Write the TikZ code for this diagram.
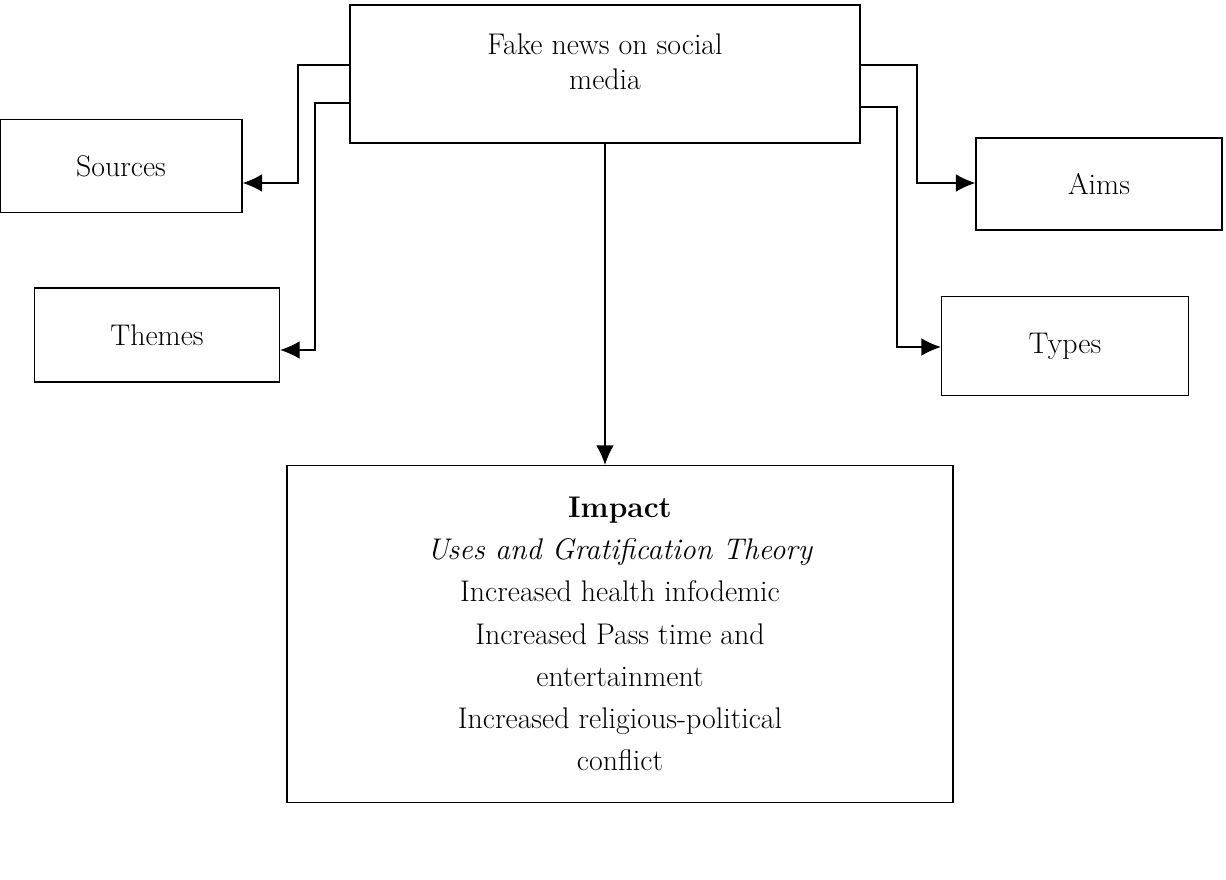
\documentclass[tikz,border=0pt]{standalone}
\usepackage{tikz}
\usetikzlibrary{arrows,arrows.meta,positioning}
\begin{document}
\begin{tikzpicture}[x=0.02cm,y=-0.02cm,->,>={Latex[length=11pt,width=10pt]},semithick]
  \tikzstyle{box}=[draw,thick,inner sep=0pt,align=center,
                   font=\fontsize{17}{24}\selectfont]
  \useasboundingbox (0,0) rectangle (1226,879);

  \node[box,minimum width=510*0.02cm,minimum height=138*0.02cm] (F) at (605,74) {};
  \node[font=\fontsize{17}{24}\selectfont,align=center] (Ft) at (605,62)
        {Fake news on social\\[-4pt]media};
  \node[box,minimum width=242*0.02cm,minimum height=93*0.02cm] (S) at (121,166) {Sources};
  \node[box,minimum width=245*0.02cm,minimum height=94*0.02cm] (T) at (157,335) {Themes};
  \node[box,minimum width=246*0.02cm,minimum height=92*0.02cm] (A) at (1099,184) {Aims};
  \node[box,minimum width=247*0.02cm,minimum height=99*0.02cm] (Y) at (1065,346) {Types};
  \node[box,minimum width=666*0.02cm,minimum height=337*0.02cm] (I) at (620,634)
        {\textbf{Impact}\\ \textit{Uses and Gratification Theory}\\
         Increased health infodemic\\ Increased Pass time and\\ entertainment\\
         Increased religious-political\\ conflict};

  \coordinate (s1) at (298,65);  \coordinate (s2) at (298,183);
  \coordinate (t1) at (315,103); \coordinate (t2) at (315,350);
  \coordinate (a1) at (917,65);  \coordinate (a2) at (917,183);
  \coordinate (y1) at (897,107); \coordinate (y2) at (897,347);

  \draw (F.west |- s1) -- (s1) -- (s2) -- (S.east |- s2);
  \draw (F.west |- t1) -- (t1) -- (t2) -- (T.east |- t2);
  \draw (F.east |- a1) -- (a1) -- (a2) -- (A.west |- a2);
  \draw (F.east |- y1) -- (y1) -- (y2) -- (Y.west |- y2);
  \draw (F.south -| 605,0) -- (I.north -| 605,0);
\end{tikzpicture}
\end{document}
